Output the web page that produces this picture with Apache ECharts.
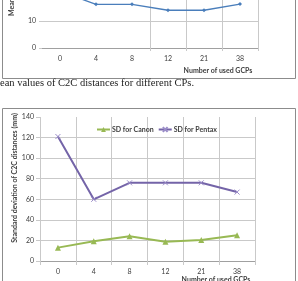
<!DOCTYPE html>
<html>
<head>
<meta charset="utf-8">
<script src="https://cdn.jsdelivr.net/npm/echarts@6/dist/echarts.min.js"></script>
<style>
  html, body { margin: 0; padding: 0; background: #fff; }
  #charts { width: 298px; height: 281px; }
</style>
</head>
<body>
<div id="charts"></div>
<script>
// data
const gcps = ['0', '4', '8', '12', '21', '38'];
const meanC2C = [21, 16.2, 16.2, 14, 14, 16.3];
const sdCanon = [13, 19.2, 24, 18.8, 20.4, 25];
const sdPentax = [121, 60, 76, 76, 76, 67];

const gridColor = '#c9c9c9';
const labelColor = '#404040';
const lblFont = { fontFamily: 'Lato', fontSize: 7, color: labelColor };

// excel-ish "x" marker
const crossPath = 'path://M0,0L10,10M10,0L0,10';

var myChart = echarts.init(document.getElementById('charts'), null, { width: 298, height: 281 });

var option = {
  animation: false,
  grid: [
    // top chart, only its lower part is in the picture
    { left: 42, right: 40, top: 0, bottom: 233 },
    // standard deviation chart
    { left: 40, right: 43, top: 117, bottom: 20 }
  ],
  legend: {
    left: 96,
    top: 126,
    itemWidth: 13,
    itemHeight: 6,
    itemGap: 4,
    padding: 0,
    textStyle: { fontFamily: 'Lato', fontSize: 7, fontWeight: 'bold', color: labelColor, padding: [0, 0, 0, -3] },
    data: ['SD for Canon', 'SD for Pentax']
  },
  xAxis: [
    {
      gridIndex: 0,
      type: 'category',
      data: gcps,
      boundaryGap: true,
      axisLine: { lineStyle: { color: '#a0a0a0' } },
      axisTick: { show: true, length: 3, lineStyle: { color: gridColor }, interval: function (i) { return i >= 3; } },
      splitLine: { show: true, lineStyle: { color: gridColor }, interval: function (i) { return i >= 3; } },
      axisLabel: Object.assign({ margin: 7 }, lblFont)
    },
    {
      gridIndex: 1,
      type: 'category',
      data: gcps,
      boundaryGap: true,
      axisLine: { lineStyle: { color: '#a0a0a0' } },
      axisTick: { show: true, length: 4, lineStyle: { color: gridColor } },
      splitLine: { show: true, lineStyle: { color: gridColor } },
      axisLabel: Object.assign({ margin: 7 }, lblFont)
    }
  ],
  yAxis: [
    {
      gridIndex: 0,
      type: 'value',
      min: 0,
      max: 17.8,
      interval: 10,
      axisLine: { show: false },
      axisTick: { show: true, length: 3, lineStyle: { color: gridColor } },
      splitLine: { lineStyle: { color: gridColor }, showMaxLine: false },
      axisLabel: Object.assign({ margin: 6, showMaxLabel: false }, lblFont)
    },
    {
      gridIndex: 1,
      type: 'value',
      min: 0,
      max: 140,
      interval: 20,
      axisLine: { show: false },
      axisTick: { show: true, length: 4, lineStyle: { color: gridColor } },
      splitLine: { lineStyle: { color: gridColor }, showMaxLine: false },
      axisLabel: Object.assign({ margin: 6 }, lblFont)
    }
  ],
  series: [
    {
      name: 'Mean',
      type: 'line',
      xAxisIndex: 0,
      yAxisIndex: 0,
      data: meanC2C,
      symbol: 'diamond',
      symbolSize: 4,
      lineStyle: { color: '#4a7ebb', width: 1.3 },
      itemStyle: { color: '#4a7ebb' }
    },
    {
      name: 'SD for Canon',
      type: 'line',
      xAxisIndex: 1,
      yAxisIndex: 1,
      data: sdCanon,
      symbol: 'triangle',
      symbolSize: 6,
      lineStyle: { color: '#98b954', width: 2 },
      itemStyle: { color: '#98b954' }
    },
    {
      name: 'SD for Pentax',
      type: 'line',
      xAxisIndex: 1,
      yAxisIndex: 1,
      data: sdPentax,
      symbol: crossPath,
      symbolSize: 5,
      lineStyle: { color: '#7464a8', width: 2 },
      itemStyle: { color: '#9a8cc8', borderColor: '#9a8cc8', borderWidth: 1 }
    }
  ],
  graphic: [
    // frames around both figures
    { type: 'rect', shape: { x: 2.5, y: -5, width: 293, height: 83.5 }, style: { fill: 'none', stroke: '#8c8c8c', lineWidth: 1 } },
    { type: 'rect', shape: { x: 2.5, y: 108.5, width: 293, height: 200 }, style: { fill: 'none', stroke: '#8c8c8c', lineWidth: 1 } },
    // figure caption (cut off on the left)
    { type: 'text', x: 0, y: 83, style: { text: 'ean values of C2C distances for different CPs.', font: '10.5px "Liberation Serif"', fill: '#222', textAlign: 'left', textVerticalAlign: 'middle' } },
    // axis titles
    { type: 'text', x: 12, y: 16, rotation: Math.PI / 2, style: { text: 'Mean of C2C distances (mm)', font: 'bold 7px Lato', fill: labelColor, textAlign: 'left', textVerticalAlign: 'middle' } },
    { type: 'text', x: 218, y: 70.5, style: { text: 'Number of used GCPs', font: 'bold 7px Lato', fill: labelColor, textAlign: 'center', textVerticalAlign: 'middle' } },
    { type: 'text', x: 15, y: 178, rotation: Math.PI / 2, style: { text: 'Standard deviation of C2C distances (mm)', font: 'bold 7px Lato', fill: labelColor, textAlign: 'center', textVerticalAlign: 'middle' } },
    { type: 'text', x: 216, y: 279.5, style: { text: 'Number of used GCPs', font: 'bold 7px Lato', fill: labelColor, textAlign: 'center', textVerticalAlign: 'middle' } }
  ]
};

myChart.setOption(option);
</script>
</body>
</html>
